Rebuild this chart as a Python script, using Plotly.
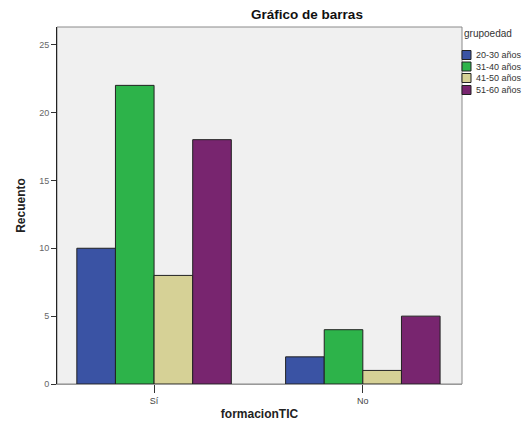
import plotly.graph_objects as go

categories = ["Sí", "No"]
groups = ["20-30 años", "31-40 años", "41-50 años", "51-60 años"]
values = {
    "20-30 años": [10, 2],
    "31-40 años": [22, 4],
    "41-50 años": [8, 1],
    "51-60 años": [18, 5],
}
colors = ["#3a53a4", "#2db34a", "#d6d196", "#78256f"]
y_ticks = [0, 5, 10, 15, 20, 25]

W, H = 531, 425
L, R, T, B = 57, 69, 27, 41
fig = go.Figure()
for g, c in zip(groups, colors):
    fig.add_trace(go.Bar(
        x=categories, y=values[g], name=g, showlegend=False,
        marker=dict(color=c, line=dict(color="#222222", width=1)),
    ))

fig.update_layout(
    width=W, height=H,
    barmode="group", bargap=0.26, bargroupgap=0,
    paper_bgcolor="white", plot_bgcolor="#f0f0f0",
    margin=dict(l=L, r=R, t=T, b=B, autoexpand=False),
    font=dict(family="Liberation Sans, Arial, sans-serif", size=9, color="#444444"),
    title=dict(text="<b>Gráfico de barras</b>", x=307 / W, xanchor="center", y=1 - 14 / H, yanchor="middle",
               font=dict(size=13.5, color="#111111")),
    showlegend=False,
    xaxis=dict(
        range=[-0.465, 1.475], showgrid=False, ticks="outside", ticklen=8, automargin=False,
        tickcolor="#333333", showline=True, linecolor="#999999",
        title=dict(text="<b>formacionTIC</b>", font=dict(size=12, color="#222222"), standoff=4),
        tickfont=dict(size=9, color="#444444"),
    ),
    yaxis=dict(
        range=[0, 26.3], tickvals=y_ticks, showgrid=False, zeroline=False, automargin=False,
        ticks="outside", ticklen=5, tickcolor="#333333",
        showline=True, linecolor="#222222", mirror=False,
        title=dict(text="<b>Recuento</b>", font=dict(size=12, color="#222222"), standoff=10),
        tickfont=dict(size=9, color="#666666"),
    ),
)
fig.add_shape(type="rect", xref="paper", yref="paper", x0=0, y0=0, x1=1, y1=1,
              line=dict(color="#8a8a8a", width=1), layer="below")

PW = W - L - R
PH = H - T - B

def fx(px):
    return (px - L) / PW

def fy(py):
    return (H - B - py) / PH

fig.add_annotation(text="grupoedad", xref="paper", yref="paper",
                   x=fx(462), y=fy(33), xanchor="left", yanchor="middle", showarrow=False,
                   font=dict(size=10, color="#333333"))
item_y = [55, 66.5, 78, 90]
for g, c, yy in zip(groups, colors, item_y):
    fig.add_shape(type="rect", xref="paper", yref="paper",
                  x0=fx(462), x1=fx(471), y0=fy(yy + 4.5), y1=fy(yy - 4.5),
                  fillcolor=c, line=dict(color="#222222", width=1))
    fig.add_annotation(text=g, xref="paper", yref="paper",
                       x=fx(474), y=fy(yy), xanchor="left", yanchor="middle", showarrow=False,
                       font=dict(size=9, color="#333333"))

fig.write_html("out.html", config={"displayModeBar": False},
               post_script="document.body.style.margin='0';")
